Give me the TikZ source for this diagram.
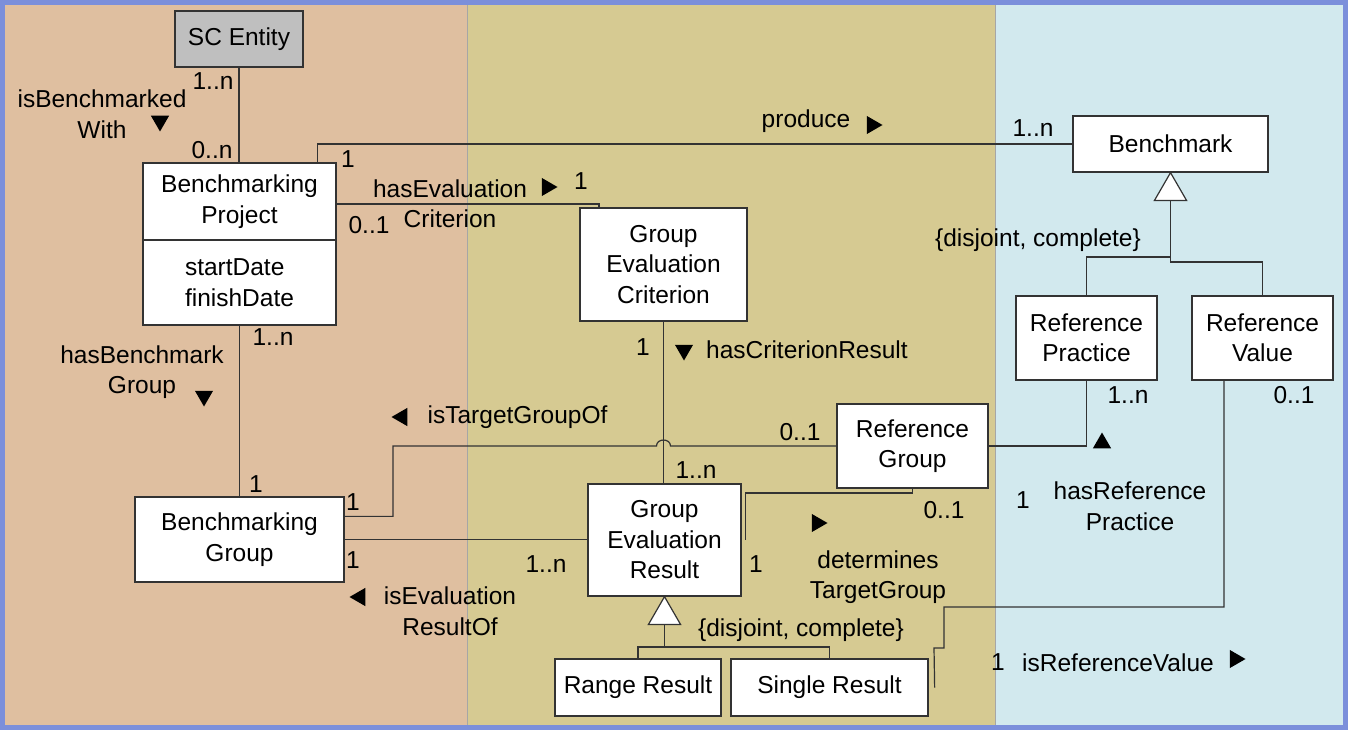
\documentclass[tikz,border=0pt]{standalone}
\usepackage{fontspec}
\setmainfont{Liberation Sans}
\usetikzlibrary{shapes.geometric,calc}
\definecolor{bord}{HTML}{7B8FDB}
\definecolor{pL}{HTML}{DFBFA0}
\definecolor{pM}{HTML}{D6CA92}
\definecolor{pR}{HTML}{D2E9EE}
\definecolor{ln}{HTML}{333333}
\tikzset{
 every node/.style={font=\fontsize{24.5}{30.5}\selectfont},
 box/.style={draw=ln, line width=1.3pt, fill=white, align=center, inner sep=0pt},
 lbl/.style={inner sep=0pt, align=center},
 con/.style={draw=ln, line width=1.2pt},
 mk/.style={regular polygon, regular polygon sides=3, fill=black, inner sep=0pt, outer sep=0pt, minimum size=21pt},
 gen/.style={regular polygon, regular polygon sides=3, draw=ln, line width=1.2pt, fill=white, inner sep=0pt, outer sep=0pt, minimum size=37pt, anchor=corner 1},
}
\begin{document}
\begin{tikzpicture}[x=1pt,y=-1pt]
\useasboundingbox (0,0) rectangle (1348,730);
\fill[bord] (0,0) rectangle (1348,730);
\fill[pL] (5,5) rectangle (467.5,725);
\fill[pM] (467.5,5) rectangle (995,725);
\fill[pR] (995,5) rectangle (1343,725);
\draw[gray!70, line width=0.8pt] (467.5,5) -- (467.5,725) (995,5) -- (995,725);

% classes
\node[box, fill=black!25, minimum width=128pt, minimum height=56pt] (SC) at (239,39) {SC Entity};
\node[box, minimum width=193pt, minimum height=77pt] (BP) at (239.5,201.5) {Benchmarking\\Project};
\node[box, minimum width=193pt, minimum height=85pt, align=left] (BPa) at (239.5,282.5) {startDate\\finishDate};
\node[box, minimum width=167pt, minimum height=113pt] (GEC) at (663.5,264.5) {Group\\Evaluation\\Criterion};
\node[box, minimum width=195pt, minimum height=56pt] (BM) at (1170.5,144) {Benchmark};
\node[box, minimum width=141pt, minimum height=84pt] (RP) at (1086.5,338) {Reference\\Practice};
\node[box, minimum width=141pt, minimum height=84pt] (RV) at (1262.5,338) {Reference\\Value};
\node[box, minimum width=151pt, minimum height=84pt] (RG) at (912.5,446) {Reference\\Group};
\node[box, minimum width=209pt, minimum height=85pt] (BG) at (239.5,539.5) {Benchmarking\\Group};
\node[box, minimum width=153pt, minimum height=112pt] (GER) at (664.5,540) {Group\\Evaluation\\Result};
\node[box, minimum width=166pt, minimum height=57pt] (RR) at (638,687.5) {Range Result};
\node[box, minimum width=197pt, minimum height=57pt] (SR) at (829.5,687.5) {Single Result};

% generalization triangles
\node[gen] (G1) at (BM.south) {};
\node[gen] (G2) at (GER.south) {};

% connectors
\draw[con] (SC.south) -- (SC.south |- BP.north);
\draw[con] ([xshift=175pt]BP.north west) |- (BM.west);
\draw[con] ([yshift=-2.5pt]BP.east) -| ([xshift=-64.5pt]GEC.north);
\draw[con] (GEC.south) -- (GEC.south |- GER.north);
\draw[con] (BPa.south) -- (BPa.south |- BG.north);
\draw[con] ([yshift=-20pt]BG.north east) -| (393,446) -- (656.5,446)
  .. controls (656.5,438) and (670.5,438) .. (670.5,446) -- (RG.west);
\draw[con] (BG.east) -- (BG.east -| GER.west);
\draw[con] (RG.south) -- (912.5,493) -| ([xshift=4pt]GER.east);
\draw[con] (RP.south) |- (RG.east);
\draw[con] ([xshift=-38.5pt]RV.south) |- (944,607) -- (944,648) -- (934,648) -- ([xshift=6pt]SR.east);
\draw[con] (G1.side 2) -- (1170.5,257) -| (RP.north);
\draw[con] (1170.5,257) -- (1170.5,262) -| (RV.north);
\draw[con] (G2.side 2) -- (664.5,647) -| (RR.north);
\draw[con] (664.5,647) -| (SR.north);

% labels
\node[lbl] (l1) at (213,81) {1..n};
\node[lbl] (l2) at (212,150) {0..n};
\node[lbl] (l3) at (102,114) {isBenchmarked\\With};
\node[mk, shape border rotate=180] (m1) at (160,121) {};
\node[lbl] (l4) at (348,159) {1};
\node[lbl] (l5) at (806,121) {produce};
\node[mk, shape border rotate=-90] (m2) at (872,125) {};
\node[lbl] (l6) at (1033,128) {1..n};
\node[lbl] (l7) at (450,203.5) {hasEvaluation\\Criterion};
\node[mk, shape border rotate=-90] (m3) at (547,187) {};
\node[lbl] (l8) at (581,181) {1};
\node[lbl] (l9) at (369,225) {0..1};
\node[lbl] (l10) at (643,347) {1};
\node[mk, shape border rotate=180] (m4) at (684,350) {};
\node[lbl, anchor=west] (l11) at (706,350) {hasCriterionResult};
\node[lbl] (l12) at (696,470) {1..n};
\node[lbl] (l13) at (273,337) {1..n};
\node[lbl] (l14) at (142,372) {hasBenchmark\\Group};
\node[mk, shape border rotate=180] (m5) at (204,396) {};
\node[lbl] (l15) at (256,484) {1};
\node[lbl] (l16) at (353,502) {1};
\node[mk, shape border rotate=90] (m6) at (402,417) {};
\node[lbl] (l17) at (517.5,417) {isTargetGroupOf};
\node[lbl] (l18) at (800,432) {0..1};
\node[lbl] (l19) at (353,560) {1};
\node[lbl] (l20) at (546,564) {1..n};
\node[mk, shape border rotate=90] (m7) at (360,597) {};
\node[lbl] (l21) at (450,611) {isEvaluation\\ResultOf};
\node[lbl] (l22) at (944,510) {0..1};
\node[mk, shape border rotate=-90] (m8) at (817,523) {};
\node[lbl] (l23) at (756,564) {1};
\node[lbl] (l24) at (878,577) {determines\\TargetGroup};
\node[lbl] (l25) at (1038,240) {\{disjoint, complete\}};
\node[lbl] (l26) at (1128,395) {1..n};
\node[lbl] (l27) at (1294,395) {0..1};
\node[mk] (m9) at (1102,443) {};
\node[lbl] (l28) at (1023,500) {1};
\node[lbl] (l29) at (1130,506) {hasReference\\Practice};
\node[lbl] (l30) at (801,630) {\{disjoint, complete\}};
\node[lbl] (l31) at (998,662) {1};
\node[lbl] (l32) at (1118,663) {isReferenceValue};
\node[mk, shape border rotate=-90] (m10) at (1235,659) {};
\end{tikzpicture}
\end{document}
